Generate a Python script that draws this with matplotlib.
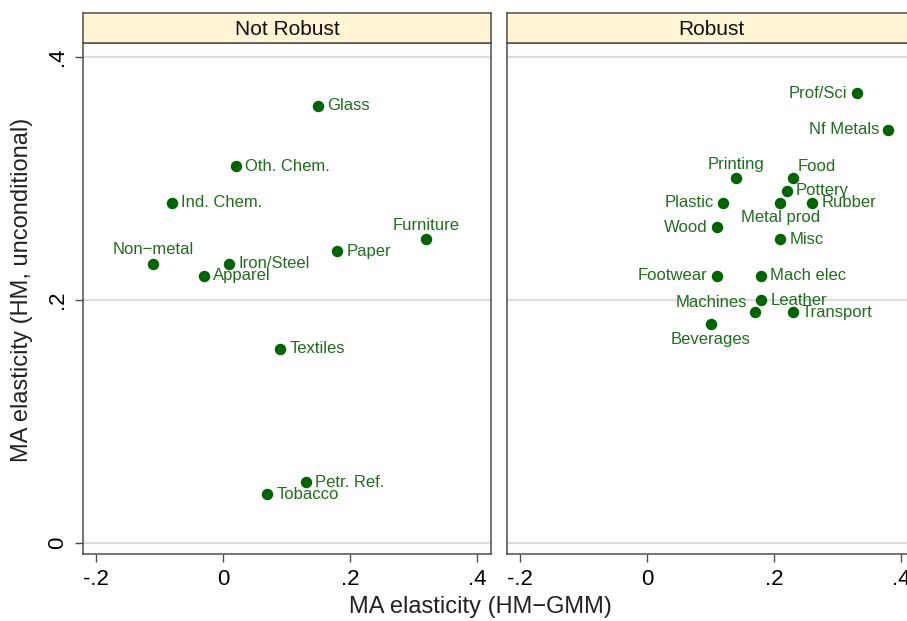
import matplotlib
matplotlib.use("Agg")
import matplotlib.pyplot as plt

plt.rcParams['font.family'] = ['Liberation Sans', 'DejaVu Sans']

# Not Robust industries
nr_names = ["Glass", "Oth. Chem.", "Ind. Chem.", "Furniture", "Paper", "Non\u2212metal",
            "Iron/Steel", "Apparel", "Textiles", "Petr. Ref.", "Tobacco"]
nr_x = [0.15, 0.02, -0.08, 0.32, 0.18, -0.11, 0.01, -0.03, 0.09, 0.13, 0.07]
nr_y = [0.36, 0.31, 0.28, 0.25, 0.24, 0.23, 0.23, 0.22, 0.16, 0.05, 0.04]

# Robust industries
r_names = ["Prof/Sci", "Nf Metals", "Printing", "Food", "Pottery", "Metal prod", "Rubber",
           "Plastic", "Wood", "Misc", "Footwear", "Mach elec", "Leather", "Machines",
           "Transport", "Beverages"]
r_x = [0.33, 0.38, 0.14, 0.23, 0.22, 0.21, 0.26, 0.12, 0.11, 0.21, 0.11, 0.18, 0.18, 0.17,
       0.23, 0.10]
r_y = [0.37, 0.34, 0.30, 0.30, 0.29, 0.28, 0.28, 0.28, 0.26, 0.25, 0.22, 0.22, 0.20, 0.19,
       0.19, 0.18]

panel_titles = ["Not Robust", "Robust"]
x_ticks = [-0.2, 0.0, 0.2, 0.4]
x_tick_labels = ["-.2", "0", ".2", ".4"]
y_ticks = [0.0, 0.2, 0.4]
y_tick_labels = ["0", ".2", ".4"]

# clock position of each marker label (Stata style); default is 3 o'clock
label_clock = {"Non\u2212metal": 12, "Furniture": 12, "Printing": 12, "Food": 1,
               "Metal prod": 6, "Beverages": 6, "Machines": 10,
               "Prof/Sci": 9, "Nf Metals": 9, "Plastic": 9, "Wood": 9, "Footwear": 9}

PX = 72 / 100.0  # points per pixel at 100 dpi
clock_style = {
    3: dict(xytext=(9 * PX, 0), ha="left", va="center"),
    9: dict(xytext=(-9 * PX, 0), ha="right", va="center"),
    12: dict(xytext=(0, 14 * PX), ha="center", va="center"),
    6: dict(xytext=(0, -15 * PX), ha="center", va="center"),
    1: dict(xytext=(5 * PX, 12 * PX), ha="left", va="center"),
    10: dict(xytext=(-8 * PX, 10 * PX), ha="right", va="center"),
}

W, H = 907, 621
fig = plt.figure(figsize=(W / 100, H / 100), dpi=100)
fig.patch.set_facecolor("white")

dot_color = "#006400"
text_color = "#1e6e1e"
frame_color = "#4d4d4d"
grid_color = "#dcdcdc"
strip_color = "#fff5d2"

xlim = (-0.2205, 0.422)
ylim = (-0.009, 0.4115)

panel_left_px = [83, 507]
panel_w_px = 408
top_px, bottom_px = 43, 554
strip_h_px = 30

datasets = [(nr_names, nr_x, nr_y), (r_names, r_x, r_y)]

for i, (names, xs, ys) in enumerate(datasets):
    x0 = panel_left_px[i] / W
    ax = fig.add_axes([x0, (H - bottom_px) / H, panel_w_px / W, (bottom_px - top_px) / H])
    ax.set_xlim(*xlim)
    ax.set_ylim(*ylim)
    for yv in y_ticks:
        ax.axhline(yv, color=grid_color, lw=1.6, zorder=0)
    ax.scatter(xs, ys, s=68, color=dot_color, zorder=3, linewidths=0)
    for n, xv, yv in zip(names, xs, ys):
        st = clock_style[label_clock.get(n, 3)]
        ax.annotate(n, (xv, yv), textcoords="offset points", xytext=st["xytext"],
                    ha=st["ha"], va=st["va"], fontsize=12, color=text_color, zorder=4)
    for sp in ax.spines.values():
        sp.set_color(frame_color)
        sp.set_linewidth(1.1)
    ax.set_xticks(x_ticks)
    ax.set_xticklabels(x_tick_labels, fontsize=16)
    ax.tick_params(axis="x", length=6, width=1, color=frame_color, pad=5)
    if i == 0:
        ax.set_yticks(y_ticks)
        ax.set_yticklabels(y_tick_labels, fontsize=16, rotation=90, va="center")
        ax.tick_params(axis="y", length=6, width=1, color=frame_color, pad=5)
    else:
        ax.set_yticks([])

    # panel strip
    sax = fig.add_axes([x0, (H - top_px) / H, panel_w_px / W, strip_h_px / H])
    sax.set_facecolor(strip_color)
    sax.set_xticks([])
    sax.set_yticks([])
    for sp in sax.spines.values():
        sp.set_color(frame_color)
        sp.set_linewidth(1.1)
    sax.text(0.5, 0.45, panel_titles[i], transform=sax.transAxes, ha="center",
             va="center", fontsize=15, color="#111111")

fig.text(480 / W, (H - 607) / H, "MA elasticity (HM\u2212GMM)", ha="center", va="center",
         fontsize=17, color="#222222")
fig.text(22 / W, (H - 290) / H, "MA elasticity (HM, unconditional)", ha="center",
         va="center", rotation=90, fontsize=17, color="#222222")

fig.savefig("out.png", dpi=100)
